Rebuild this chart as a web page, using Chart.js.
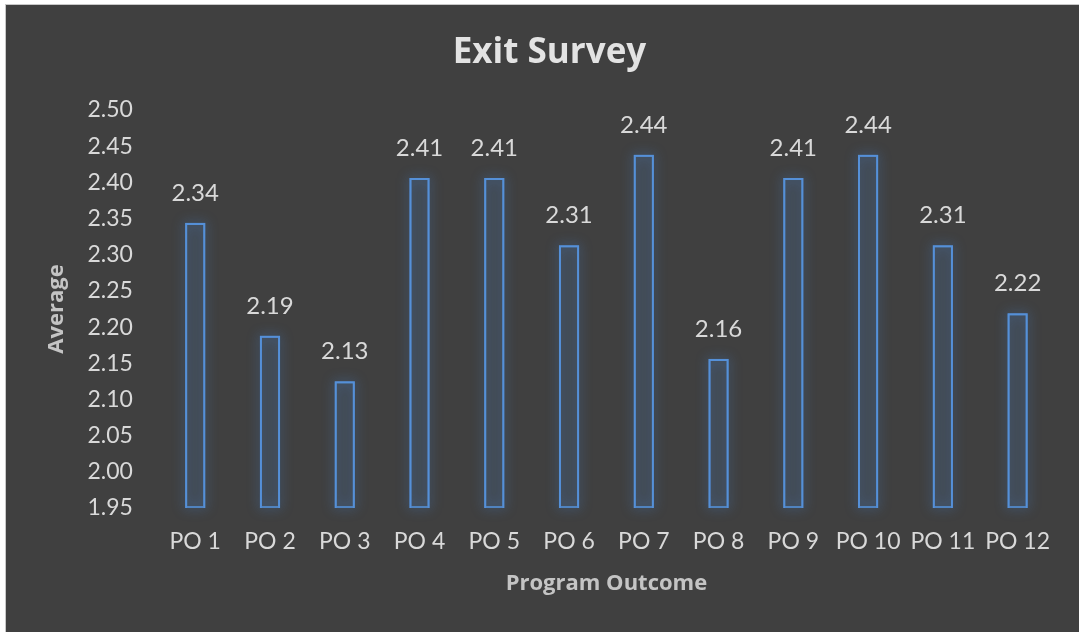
<!DOCTYPE html>
<html>
<head>
<meta charset="utf-8">
<script src="https://cdn.jsdelivr.net/npm/chart.js@4.4.1/dist/chart.umd.min.js"></script>
<style>
  html, body { margin: 0; padding: 0; background: #ffffff; }
  #wrap {
    position: absolute; left: 5px; top: 4px; width: 1073px; height: 627px;
    border-left: 1px solid #c8c8c8; border-top: 1px solid #c8c8c8;
    background: #404040;
  }
  canvas { display: block; }
</style>
</head>
<body>
<div id="wrap"><canvas id="chart" width="1073" height="627"></canvas></div>
<script>
// values
const categories = ['PO 1', 'PO 2', 'PO 3', 'PO 4', 'PO 5', 'PO 6', 'PO 7', 'PO 8', 'PO 9', 'PO 10', 'PO 11', 'PO 12'];
const averages   = [2.344, 2.188, 2.125, 2.406, 2.406, 2.313, 2.438, 2.156, 2.406, 2.438, 2.313, 2.219];
const yTicks     = ['1.95', '2.00', '2.05', '2.10', '2.15', '2.20', '2.25', '2.30', '2.35', '2.40', '2.45', '2.50'];

const FONT = 'Lato, "Open Sans", sans-serif';
const BOLD_FONT = '"Open Sans", Lato, sans-serif';
const BLUE = '#5590d8';

// soft blue glow round the bars (Excel "glow" effect).
// BarElement clips its own border, so the halo is painted underneath it.
const glow = {
  id: 'glow',
  beforeDatasetsDraw(chart) {
    const ctx = chart.ctx;
    const meta = chart.getDatasetMeta(0);
    ctx.save();
    ctx.shadowColor = 'rgba(70,140,230,0.9)';
    ctx.shadowBlur = 12;
    ctx.strokeStyle = 'rgba(85,144,216,0.8)';
    ctx.lineWidth = 2;
    meta.data.forEach((bar) => {
      const p = bar.getProps(['x', 'y', 'base', 'width'], true);
      ctx.strokeRect(p.x - p.width / 2 + 1, p.y + 1, p.width - 2, p.base - p.y - 2);
    });
    ctx.restore();
  },
};

// value labels above each bar
const valueLabels = {
  id: 'valueLabels',
  afterDatasetsDraw(chart) {
    const ctx = chart.ctx;
    const meta = chart.getDatasetMeta(0);
    ctx.save();
    ctx.font = '24px ' + FONT;
    ctx.fillStyle = '#d9d9d9';
    ctx.textAlign = 'center';
    ctx.textBaseline = 'bottom';
    meta.data.forEach((bar, i) => {
      ctx.fillText(averages[i].toFixed(2), bar.x, bar.y - 18);
    });
    ctx.restore();
  },
};

new Chart(document.getElementById('chart'), {
  type: 'bar',
  data: {
    labels: categories,
    datasets: [{
      label: 'Average',
      data: averages,
      base: 1.95,
      backgroundColor: 'rgba(85,144,216,0.10)',
      borderColor: BLUE,
      borderWidth: 2,
      categoryPercentage: 1,
      barPercentage: 0.27,
    }],
  },
  options: {
    responsive: false,
    animation: false,
    layout: { padding: { left: 38, right: 24, top: 0, bottom: 35 } },
    plugins: {
      legend: { display: false },
      tooltip: { enabled: false },
      title: {
        display: true,
        text: 'Exit Survey',
        color: '#e3e3e3',
        font: { family: BOLD_FONT, size: 35, weight: 'bold' },
        padding: { top: 27, bottom: 36 },
      },
    },
    scales: {
      x: {
        grid: { display: false },
        border: { display: false },
        ticks: { color: '#d9d9d9', font: { family: FONT, size: 23 }, padding: 12, maxRotation: 0 },
        title: {
          display: true, text: 'Program Outcome', color: '#c4c4c4',
          font: { family: BOLD_FONT, size: 22, weight: 'bold' }, padding: { top: 3, bottom: 0 },
        },
      },
      y: {
        min: 1.95, max: 2.5,
        grid: { display: false },
        border: { display: false },
        ticks: {
          stepSize: 0.05,
          color: '#d9d9d9', font: { family: FONT, size: 23 }, padding: 17,
          callback: (v, i) => yTicks[i],
        },
        title: {
          display: true, text: 'Average', color: '#c4c4c4',
          font: { family: BOLD_FONT, size: 22, weight: 'bold' }, padding: { top: 0, bottom: 0 },
        },
      },
    },
  },
  plugins: [glow, valueLabels],
});
</script>
</body>
</html>
